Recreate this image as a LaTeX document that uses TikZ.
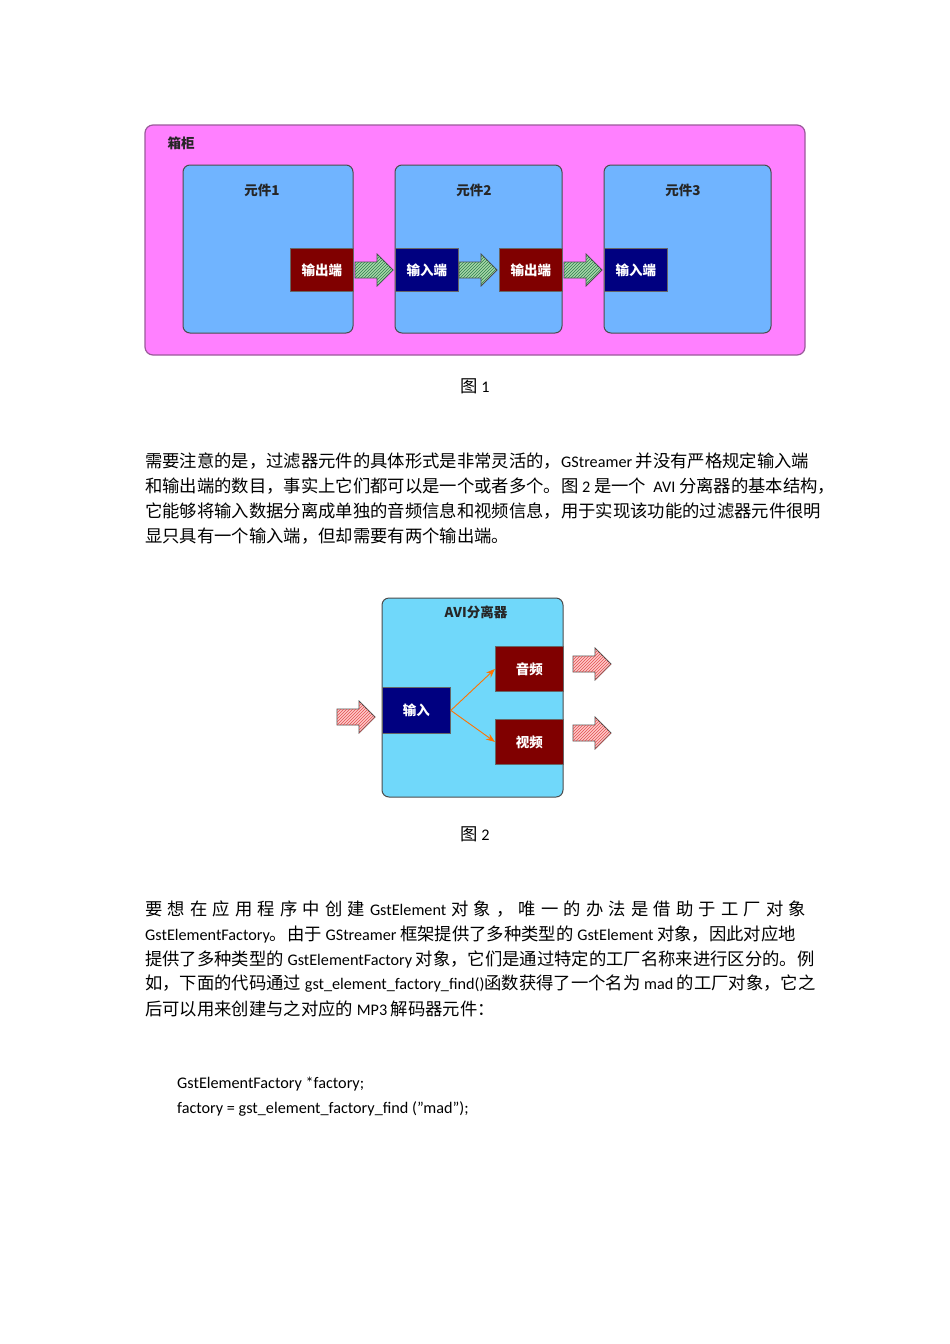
\documentclass[tikz,border=0pt]{standalone}
\usepackage{fontspec}
\setmainfont{Carlito}
\newfontfamily\cjk{Noto Sans CJK SC}[Scale=1.07]
\newfontfamily\cjkb{Noto Sans CJK SC}
\usetikzlibrary{patterns,arrows.meta}
\newcommand\C[1]{{\cjk #1}}
\definecolor{mag}{HTML}{FF80FF}
\definecolor{magb}{HTML}{9A5A9A}
\definecolor{elb}{HTML}{70B4FF}
\definecolor{avib}{HTML}{70D8FA}
\definecolor{pred}{HTML}{800000}
\definecolor{pnavy}{HTML}{000080}
\definecolor{gfill}{HTML}{A8D8A8}
\definecolor{gline}{HTML}{2E7D4F}
\definecolor{pfill}{HTML}{FFC8C8}
\definecolor{pline}{HTML}{E05050}
\newcommand\fatarrow[4]{% x, y, fill, hatch
  \filldraw[fill=#3,draw=black!70,line width=0.8pt] (#1,#2-8)--(#1+22,#2-8)--(#1+22,#2-16)--(#1+38,#2)--(#1+22,#2+16)--(#1+22,#2+8)--(#1,#2+8)--cycle;
  \fill[pattern=north east lines,pattern color=#4] (#1,#2-8)--(#1+22,#2-8)--(#1+22,#2-16)--(#1+38,#2)--(#1+22,#2+16)--(#1+22,#2+8)--(#1,#2+8)--cycle;}
\tikzset{
  elem/.style={draw=black!70,line width=1pt,fill=elb,rounded corners=7pt},
  port/.style={draw=black!60,line width=0.8pt,text=white,font=\cjkb\bfseries\fontsize{13.5}{13.5}\selectfont,inner sep=0pt,anchor=north west},
  lab/.style={font=\cjkb\bfseries\fontsize{13.5}{13.5}\selectfont,text=black!85},
  txt/.style={anchor=west,inner sep=0pt,font=\fontsize{16.2}{16.2}\selectfont},
}
\begin{document}
\begin{tikzpicture}[x=1pt,y=-1pt]
\useasboundingbox (0,0) rectangle (950,1344);
\fill[white] (0,0) rectangle (950,1344);
% Figure 1
\draw[fill=mag,draw=magb,line width=1.2pt,rounded corners=8pt] (145,125) rectangle (805,355);
\node[lab] (cab) at (181,143) {箱柜};
\draw[elem] (183,165) rectangle (353,333);
\draw[elem] (395,165) rectangle (562,333);
\draw[elem] (604,165) rectangle (771,333);
\node[lab] (l1) at (262,190) {元件1};
\node[lab] (l2) at (474,190) {元件2};
\node[lab] (l3) at (683,190) {元件3};
\node[port,fill=pred,minimum width=63pt,minimum height=43pt] (o1) at (290,248) {输出端};
\node[port,fill=pnavy,minimum width=63pt,minimum height=43pt] (i2) at (395,248) {输入端};
\node[port,fill=pred,minimum width=63pt,minimum height=43pt] (o2) at (499,248) {输出端};
\node[port,fill=pnavy,minimum width=63pt,minimum height=43pt] (i3) at (604,248) {输入端};
\fatarrow{355}{270}{gfill}{gline}
\fatarrow{459}{270}{gfill}{gline}
\fatarrow{564}{270}{gfill}{gline}
\node[font=\fontsize{16.2}{16.2}\selectfont] (cap1) at (475,386) {\C{图} 1};
% Figure 2
\draw[elem,fill=avib] (382,598) rectangle (563,797);
\node[lab] (avi) at (476,612) {AVI分离器};
\node[port,fill=pnavy,minimum width=68pt,minimum height=46pt] (in) at (382,687) {输入};
\node[port,fill=pred,minimum width=68pt,minimum height=45pt] (au) at (495,646) {音频};
\node[port,fill=pred,minimum width=68pt,minimum height=45pt] (vi) at (495,719) {视频};
\draw[orange!90!red,line width=0.9pt,-{Stealth[length=9pt]}] (in.east) -- (au.west);
\draw[orange!90!red,line width=0.9pt,-{Stealth[length=9pt]}] (in.east) -- (vi.west);
\fatarrow{337}{717}{pfill}{pline}
\fatarrow{573}{664}{pfill}{pline}
\fatarrow{573}{733}{pfill}{pline}
\node[font=\fontsize{16.2}{16.2}\selectfont] (cap2) at (475,834) {\C{图} 2};
% Paragraph 1
\node[txt] (p1) at (145,461) {\C{需要注意的是，过滤器元件的具体形式是非常灵活的，}GStreamer \C{并没有严格规定输入端}};
\node[txt] (p2) at (145,486) {\C{和输出端的数目，事实上它们都可以是一个或者多个。图} 2 \C{是一个} \ AVI \C{分离器的基本结构，}};
\node[txt] (p3) at (145,511) {\C{它能够将输入数据分离成单独的音频信息和视频信息，用于实现该功能的过滤器元件很明}};
\node[txt] (p4) at (145,536) {\C{显只具有一个输入端，但却需要有两个输出端。}};
% Paragraph 2
\node[txt] (q1) at (145,909) {\makebox[661pt][s]{\C{要 想 在 应 用 程 序 中 创 建} GstElement \C{对 象 ， 唯 一 的 办 法 是 借 助 于 工 厂 对 象}}};
\node[txt] (q2) at (145,934) {GstElementFactory\C{。由于} GStreamer \C{框架提供了多种类型的} GstElement \C{对象，因此对应地}};
\node[txt] (q3) at (145,959) {\C{提供了多种类型的} GstElementFactory \C{对象，它们是通过特定的工厂名称来进行区分的。例}};
\node[txt] (q4) at (145,984) {\C{如，下面的代码通过} gst\_element\_factory\_find()\C{函数获得了一个名为} mad \C{的工厂对象，它之}};
\node[txt] (q5) at (145,1009) {\C{后可以用来创建与之对应的} MP3 \C{解码器元件：}};
% Code
\node[txt] (c1) at (177,1084) {GstElementFactory *factory;};
\node[txt] (c2) at (177,1109) {factory = gst\_element\_factory\_find ("mad");};
\end{tikzpicture}
\end{document}
